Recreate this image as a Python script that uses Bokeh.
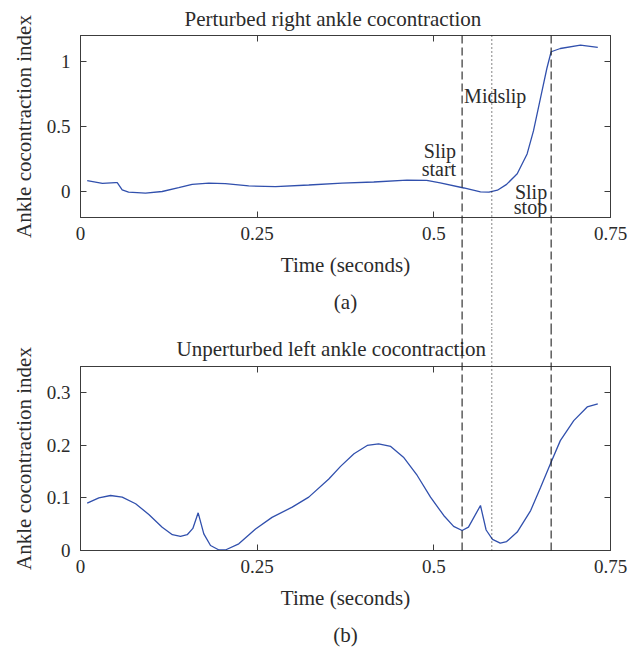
from bokeh.plotting import figure
from bokeh.layouts import column
from bokeh.models import Range1d, LinearAxis, FixedTicker, Title, ColumnDataSource
from bokeh.embed import file_html
from bokeh.resources import INLINE
from bokeh.core.properties import value

# ---------------- data ----------------
t_right = [0.0095, 0.031, 0.0495, 0.052, 0.059, 0.068, 0.092, 0.1156, 0.139, 0.158,
           0.1816, 0.205, 0.238, 0.276, 0.323, 0.370, 0.415, 0.462, 0.490, 0.509,
           0.5425, 0.566, 0.578, 0.590, 0.603, 0.618, 0.632, 0.641, 0.651, 0.660,
           0.666, 0.679, 0.7075, 0.732]
coc_right = [0.084, 0.063, 0.068, 0.068, 0.012, -0.005, -0.013, 0.000, 0.030, 0.055,
             0.065, 0.061, 0.043, 0.038, 0.050, 0.065, 0.073, 0.088, 0.086, 0.066,
             0.027, -0.003, -0.005, 0.010, 0.055, 0.137, 0.289, 0.466, 0.720, 0.948,
             1.075, 1.100, 1.126, 1.108]

t_left = [0.0095, 0.026, 0.0425, 0.059, 0.078, 0.0967, 0.1156, 0.130, 0.1415, 0.151,
          0.159, 0.1665, 0.1745, 0.184, 0.196, 0.205, 0.224, 0.2477, 0.271, 0.2996,
          0.323, 0.3514, 0.368, 0.387, 0.4057, 0.4218, 0.439, 0.457, 0.4765, 0.4953,
          0.514, 0.528, 0.540, 0.549, 0.566, 0.574, 0.583, 0.594, 0.603, 0.618,
          0.637, 0.651, 0.665, 0.679, 0.698, 0.717, 0.732]
coc_left = [0.090, 0.100, 0.1046, 0.1015, 0.089, 0.0685, 0.0444, 0.030, 0.027, 0.030,
            0.042, 0.0717, 0.0317, 0.0095, 0.001, 0.001, 0.0127, 0.041, 0.063, 0.0825,
            0.1015, 0.136, 0.160, 0.184, 0.1998, 0.203, 0.198, 0.1776, 0.1427, 0.1015,
            0.0666, 0.046, 0.038, 0.0444, 0.0856, 0.039, 0.021, 0.0139, 0.017, 0.035,
            0.076, 0.120, 0.165, 0.209, 0.247, 0.273, 0.279]

x_ticks = [0, 0.25, 0.5, 0.75]
x_tick_labels = ["0", "0.25", "0.5", "0.75"]
y_ticks_right = [0, 0.5, 1]
y_tick_labels_right = ["0", "0.5", "1"]
y_ticks_left = [0, 0.1, 0.2, 0.3]
y_tick_labels_left = ["0", "0.1", "0.2", "0.3"]

event_times = [0.540, 0.582, 0.666]          # slip start, midslip, slip stop
event_dash = ["8 4", "1 3", "8 4"]

annot_text = ["Slip", "start", "Midslip", "Slip", "stop"]
annot_event = [0, 0, 0, 2, 2]                # event line each word is attached to

# ---------------- styling ----------------
FONT = "Liberation Serif"
TXT = "#2b2b2b"
AX = "#3c3c3c"
BLUE = "#3150ad"
EVT = "#222222"


def panel(t, v, yr, yticks, ylabels, title, title_off, title_standoff,
          caption, cap_standoff, height, top_b, bot_b):
    p = figure(width=644, height=height, x_range=Range1d(0, 0.75), y_range=Range1d(*yr),
               output_backend="svg", toolbar_location=None,
               x_axis_location=None, y_axis_location=None,
               min_border_left=80, min_border_right=34,
               min_border_top=top_b, min_border_bottom=bot_b)
    p.xgrid.visible = False
    p.ygrid.visible = False
    p.outline_line_color = AX
    p.outline_line_width = 1

    p.line(t, v, line_color=BLUE, line_width=1.3)

    bottom = LinearAxis(ticker=FixedTicker(ticks=x_ticks), axis_label="Time (seconds)",
                        major_label_overrides=dict(zip(x_ticks, x_tick_labels)))
    left = LinearAxis(ticker=FixedTicker(ticks=yticks), axis_label="Ankle cocontraction index",
                      major_label_overrides=dict(zip(yticks, ylabels)))
    top = LinearAxis(ticker=FixedTicker(ticks=x_ticks))
    right = LinearAxis(ticker=FixedTicker(ticks=yticks))
    p.add_layout(bottom, "below")
    p.add_layout(left, "left")
    p.add_layout(top, "above")
    p.add_layout(right, "right")

    for ax in (bottom, left, top, right):
        ax.axis_line_color = AX
        ax.major_tick_line_color = AX
        ax.major_tick_in = 6
        ax.major_tick_out = 0
        ax.minor_tick_line_color = None
    for ax in (top, right):
        ax.major_label_text_color = None
        ax.major_label_text_font_size = "1px"
        ax.major_label_standoff = 0
    for ax in (bottom, left):
        ax.major_label_text_font = FONT
        ax.major_label_text_font_size = "19px"
        ax.major_label_text_color = TXT
        ax.axis_label_text_font = FONT
        ax.axis_label_text_font_size = "21px"
        ax.axis_label_text_font_style = "normal"
        ax.axis_label_text_color = TXT
    bottom.major_label_standoff = 9
    bottom.axis_label_standoff = 10
    left.major_label_standoff = 10
    left.axis_label_standoff = 8

    p.title.text = title
    p.title.text_font = FONT
    p.title.text_font_size = "21px"
    p.title.text_font_style = "normal"
    p.title.text_color = TXT
    p.title.align = "left"
    p.title.offset = title_off
    p.title.standoff = title_standoff

    cap = Title(text=caption, align="center", text_font=FONT, text_font_size="21px",
                text_font_style="normal", text_color=TXT, standoff=cap_standoff)
    p.add_layout(cap, "below")
    return p


p1 = panel(t_right, coc_right, (-0.2, 1.2), y_ticks_right, y_tick_labels_right,
           "Perturbed right ankle cocontraction", 104, 9, "(a)", 17, 328, 33, 111)
p2 = panel(t_left, coc_left, (0, 0.35), y_ticks_left, y_tick_labels_left,
           "Unperturbed left ankle cocontraction", 96, 12, "(b)", 16, 326, 38, 104)

# event lines run through both panels: overlay-level glyphs are not clipped to the frame
span1 = p1.y_range.end - p1.y_range.start
span2 = p2.y_range.end - p2.y_range.start
for tx, dash in zip(event_times, event_dash):
    p1.segment(x0=[tx], x1=[tx], y0=[p1.y_range.end], y1=[p1.y_range.start - 3 * span1],
               line_color=EVT, line_width=1.1, line_dash=dash, level="overlay")
    p2.segment(x0=[tx], x1=[tx], y0=[p2.y_range.start], y1=[p2.y_range.end + 3 * span2],
               line_color=EVT, line_width=1.1, line_dash=dash, level="overlay")

# annotation words in the top panel
annot_y = [0.31, 0.175, 0.735, 0.0, -0.12]
annot_align = ["right", "right", "left", "right", "right"]
annot_dx = [-6, -6, 2, -4, -4]
src = ColumnDataSource(dict(x=[event_times[i] for i in annot_event], y=annot_y,
                            text=annot_text, align=annot_align, dx=annot_dx))
p1.text(x="x", y="y", text="text", source=src, text_align="align", x_offset="dx",
        text_baseline="alphabetic", text_font=value(FONT), text_font_size="20px",
        text_color=TXT)

layout = column(p1, p2)
open("out.html", "w").write(file_html(layout, INLINE))
